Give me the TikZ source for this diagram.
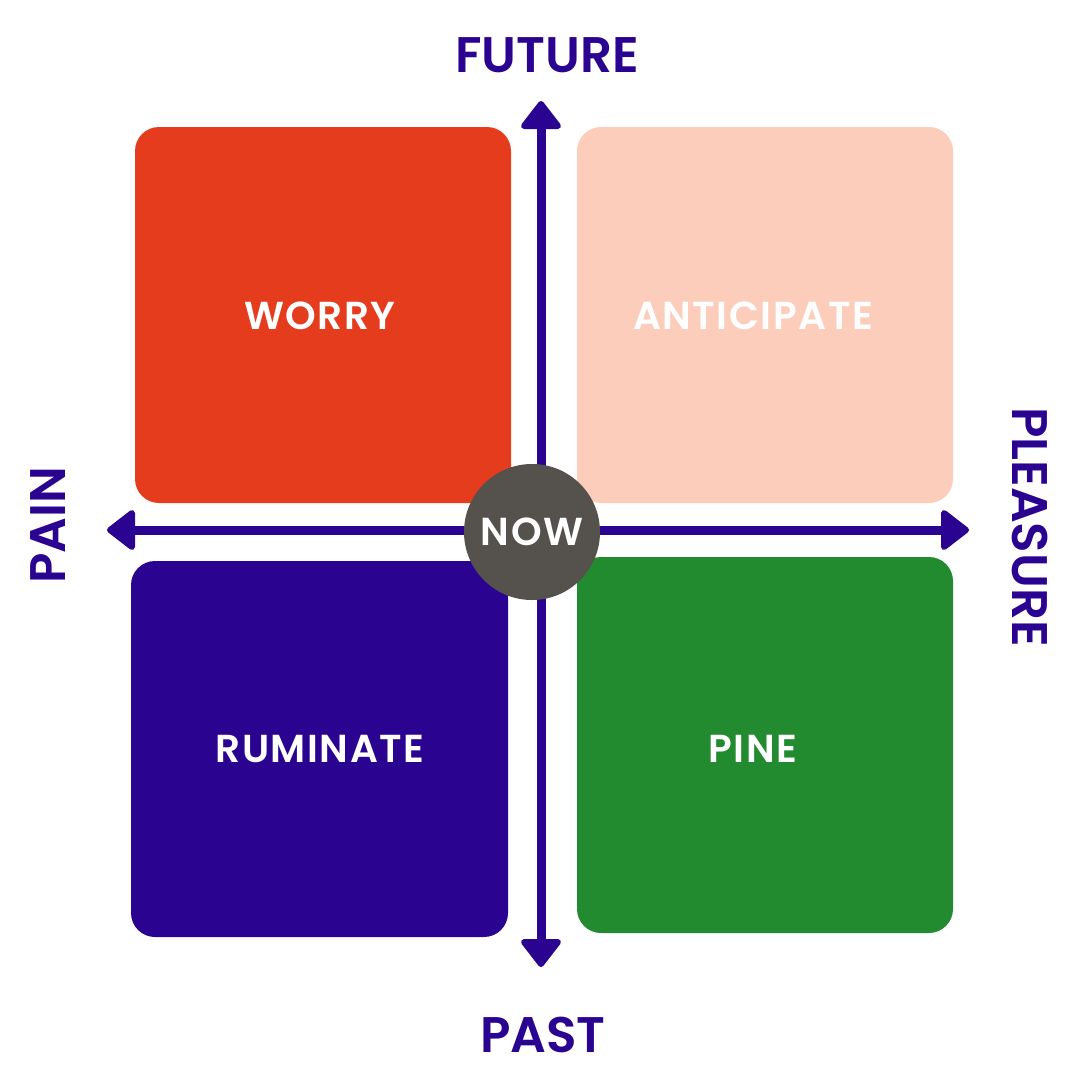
\documentclass[tikz,border=0pt]{standalone}
\usepackage{fontspec}
\setmainfont{Poppins}[BoldFont={Poppins SemiBold}]
\definecolor{indigo}{HTML}{2B0391}
\definecolor{worryc}{HTML}{E53C1E}
\definecolor{antic}{HTML}{FDCDBC}
\definecolor{pinec}{HTML}{228B30}
\definecolor{nowc}{HTML}{55524D}
\begin{document}
\begin{tikzpicture}[x=1pt,y=-1pt,
  quad/.style={rounded corners=24pt},
  qlabel/.style={text=white,font=\fontsize{39}{41}\selectfont\bfseries\addfontfeature{LetterSpace=4}},
  axlabel/.style={text=indigo,font=\fontsize{50}{52}\selectfont\bfseries},
  axisline/.style={indigo,line width=9pt},
  tip/.style={fill=indigo,draw=indigo,line width=6pt,line join=round}]
\useasboundingbox[fill=white] (0,0) rectangle (1080,1080);
\fill[quad,worryc] (135,127) rectangle (511,503);
\fill[quad,antic] (577,127) rectangle (953,503);
\fill[quad,indigo] (131,561) rectangle (508,937);
\fill[quad,pinec] (577,557) rectangle (953,933);
\node[qlabel] (worry) at (320,316) {WORRY};
\node[qlabel] (antic) at (753,316) {ANTICIPATE};
\node[qlabel] (rumi) at (320,749) {RUMINATE};
\node[qlabel] (pine) at (753,749) {PINE};
% axes
\coordinate (top) at (541,126);
\coordinate (bot) at (541,942);
\coordinate (lft) at (132,530);
\coordinate (rgt) at (942,530);
\draw[axisline] (top) -- (bot);
\draw[axisline] (lft) -- (rgt);
\draw[tip] (541,104) -- (524,126) -- (558,126) -- cycle;
\draw[tip] (541,964) -- (524,942) -- (558,942) -- cycle;
\draw[tip] (110,530) -- (132,513) -- (132,547) -- cycle;
\draw[tip] (966,530) -- (944,513) -- (944,547) -- cycle;
\node[circle,fill=nowc,minimum size=136pt,inner sep=0pt,text=white,font=\fontsize{39}{41}\selectfont\bfseries\addfontfeature{LetterSpace=4}] (now) at (532,532) {NOW};
\node[axlabel] (future) at (547,55) {FUTURE};
\node[axlabel] (past) at (543,1035) {PAST};
\node[axlabel,rotate=90] (pain) at (48,525) {PAIN};
\node[axlabel,rotate=-90] (pleasure) at (1030,527) {PLEASURE};
\end{tikzpicture}
\end{document}
